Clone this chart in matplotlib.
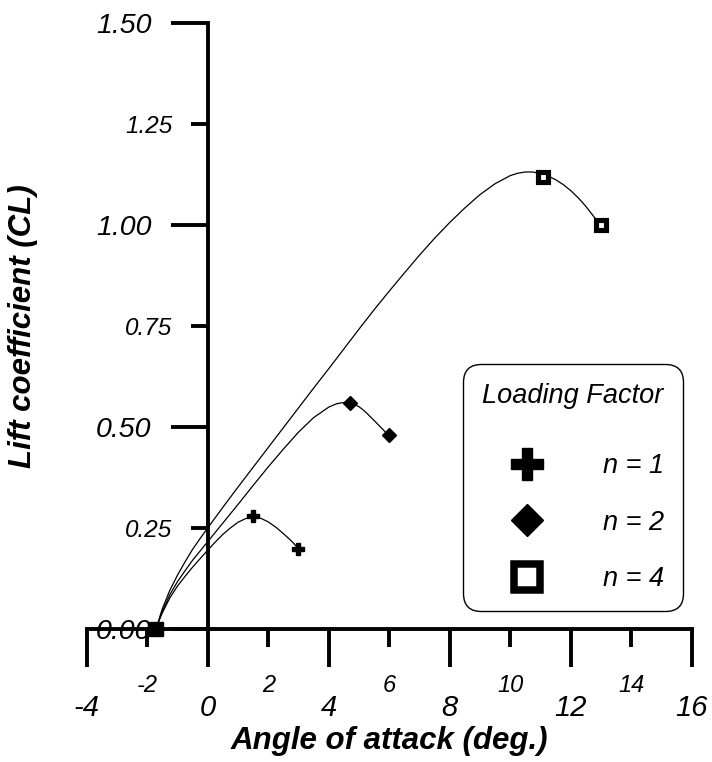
import matplotlib
matplotlib.use('Agg')
import matplotlib.pyplot as plt
from matplotlib.lines import Line2D

# Typsnitt: Arial-liknande, allt kursivt
plt.rcParams['font.family'] = ['Liberation Sans', 'DejaVu Sans']
plt.rcParams['font.style'] = 'italic'

# Kurvor: anfallsvinkel (grader) och lyftkoefficient
n1_alpha = [-1.7, -1.65, -1.6, -1.5, -1.25, -1.0, -0.75, -0.5, -0.25, 0.0, 0.25, 0.5, 0.75, 1.0, 1.25,
            1.5, 1.75, 2.0, 2.25, 2.5, 2.75, 3.0]
n1_cl = [0.0, 0.013, 0.023, 0.041, 0.078, 0.107, 0.131, 0.154, 0.175, 0.196, 0.216, 0.235, 0.251, 0.265, 0.274,
         0.278, 0.275, 0.266, 0.253, 0.237, 0.22, 0.2]

n2_alpha = [-1.7, -1.65, -1.6, -1.5, -1.25, -1.0, -0.75, -0.5, -0.25, 0.0, 0.5, 1.0, 1.5, 2.0, 2.5, 3.0, 3.5,
            4.0, 4.25, 4.4, 4.55, 4.7, 4.85, 5.0, 5.15, 5.3, 5.5, 5.75, 6.0]
n2_cl = [0.0, 0.0135, 0.025, 0.045, 0.086, 0.118, 0.145, 0.171, 0.194, 0.217, 0.263, 0.309, 0.356, 0.402, 0.446,
         0.488, 0.524, 0.550, 0.558, 0.5605, 0.5615, 0.5605, 0.557, 0.551, 0.5425, 0.532, 0.517, 0.498, 0.478]

n4_alpha = [-1.7, -1.65, -1.6, -1.5, -1.25, -1.0, -0.75, -0.5, -0.25, 0.0, 0.5, 1.0, 1.5, 2.0, 2.5, 3.0, 3.5,
            4.0, 4.5, 5.0, 5.5, 6.0, 6.5, 7.0, 7.5, 8.0, 8.5, 9.0, 9.5, 10.0, 10.25, 10.5, 10.75, 11.0, 11.25,
            11.5, 11.75, 12.0, 12.25, 12.5, 12.75, 13.0]
n4_cl = [0.0, 0.0145, 0.027, 0.051, 0.097, 0.134, 0.167, 0.198, 0.225, 0.251, 0.302, 0.352, 0.401, 0.450, 0.499,
         0.548, 0.597, 0.645, 0.694, 0.743, 0.791, 0.837, 0.882, 0.926, 0.968, 1.007, 1.043, 1.076, 1.103, 1.123,
         1.129, 1.132, 1.132, 1.128, 1.122, 1.113, 1.101, 1.086, 1.068, 1.047, 1.023, 0.997]

# Mätpunkter (markörer)
n1_pts_alpha = [1.5, 3.0]
n1_pts_cl = [0.28, 0.20]
n2_pts_alpha = [4.7, 6.0]
n2_pts_cl = [0.56, 0.48]
n4_pts_alpha = [11.1, 13.0]
n4_pts_cl = [1.12, 1.00]
zero_alpha = [-1.7]
zero_cl = [0.0]

# Axlar och etiketter
x_major = [-4, 0, 4, 8, 12, 16]
x_minor = [-2, 2, 6, 10, 14]
y_major = [0.0, 0.5, 1.0, 1.5]
y_minor = [0.25, 0.75, 1.25]
y_major_labels = ['0.00', '0.50', '1.00', '1.50']
y_minor_labels = ['0.25', '0.75', '1.25']
legend_labels = ['n = 1', 'n = 2', 'n = 4']

fig = plt.figure(figsize=(7.12, 7.62), dpi=100)
ax = fig.add_axes([0.1218, 0.1741, 0.8497, 0.7953])

# Kurvorna
for a, c in [(n1_alpha, n1_cl), (n2_alpha, n2_cl), (n4_alpha, n4_cl)]:
    ax.plot(a, c, color='black', lw=0.9, zorder=2, solid_joinstyle='round')

# Markörer
ax.plot(n1_pts_alpha, n1_pts_cl, ls='none', marker='P', ms=8.3, color='black', zorder=4, clip_on=False)
ax.plot(n2_pts_alpha, n2_pts_cl, ls='none', marker='D', ms=7.0, color='black', zorder=4, clip_on=False)
ax.plot(n4_pts_alpha, n4_pts_cl, ls='none', marker='s', ms=7.3, mfc='white', mec='black', mew=3.7,
        zorder=4, clip_on=False)
ax.plot(zero_alpha, zero_cl, ls='none', marker='s', ms=9.8, color='black', zorder=5, clip_on=False)

ax.set_xlim(-4, 16)
ax.set_ylim(0, 1.5)

ax.set_xticks(x_major, labels=[str(v) for v in x_major])
ax.set_xticks(x_minor, labels=[str(v) for v in x_minor], minor=True)
ax.set_yticks(y_major, labels=y_major_labels)
ax.set_yticks(y_minor, labels=y_minor_labels, minor=True)

ax.tick_params(axis='x', which='major', length=27, width=2.8, pad=19.5, labelsize=21)
ax.tick_params(axis='x', which='minor', length=13, width=2.8, pad=19.5, labelsize=17)
ax.tick_params(axis='y', which='major', length=27, width=2.8, pad=13.5, labelsize=20.5)
ax.tick_params(axis='y', which='minor', length=12.5, width=2.8, pad=13.0, labelsize=17.5)

ax.spines['top'].set_visible(False)
ax.spines['right'].set_visible(False)
ax.spines['left'].set_position(('data', 0))
ax.spines['left'].set_linewidth(2.8)
ax.spines['bottom'].set_linewidth(2.8)

ax.set_xlabel('Angle of attack (deg.)', fontsize=22.5, fontweight='bold')
ax.xaxis.set_label_coords(0.5, -0.160)
ax.set_ylabel('Lift coefficient (CL)', fontsize=22.5, fontweight='bold')
ax.yaxis.set_label_coords(-0.080, 0.5)

# Legend med rundade hörn
handles = [
    Line2D([], [], ls='none', marker='P', ms=22.5, color='black'),
    Line2D([], [], ls='none', marker='D', ms=16, color='black'),
    Line2D([], [], ls='none', marker='s', ms=18.4, mfc='white', mec='black', mew=5.4),
]
leg = ax.legend(handles, legend_labels, title='Loading Factor\n', loc='upper left',
                bbox_to_anchor=(0.6215, 0.4378), borderaxespad=0,
                prop={'size': 19.5, 'style': 'italic'},
                title_fontproperties={'size': 19.5, 'style': 'italic'},
                borderpad=0.702, handlelength=3.368, handletextpad=1.10, labelspacing=1.126,
                handleheight=0.7, fancybox=True, framealpha=1, edgecolor='black')
leg.get_title().set_linespacing(0.38)
leg.get_frame().set_boxstyle('round', pad=0, rounding_size=0.66)
leg.get_frame().set_linewidth(1.0)

fig.savefig('out.png', dpi=100)
